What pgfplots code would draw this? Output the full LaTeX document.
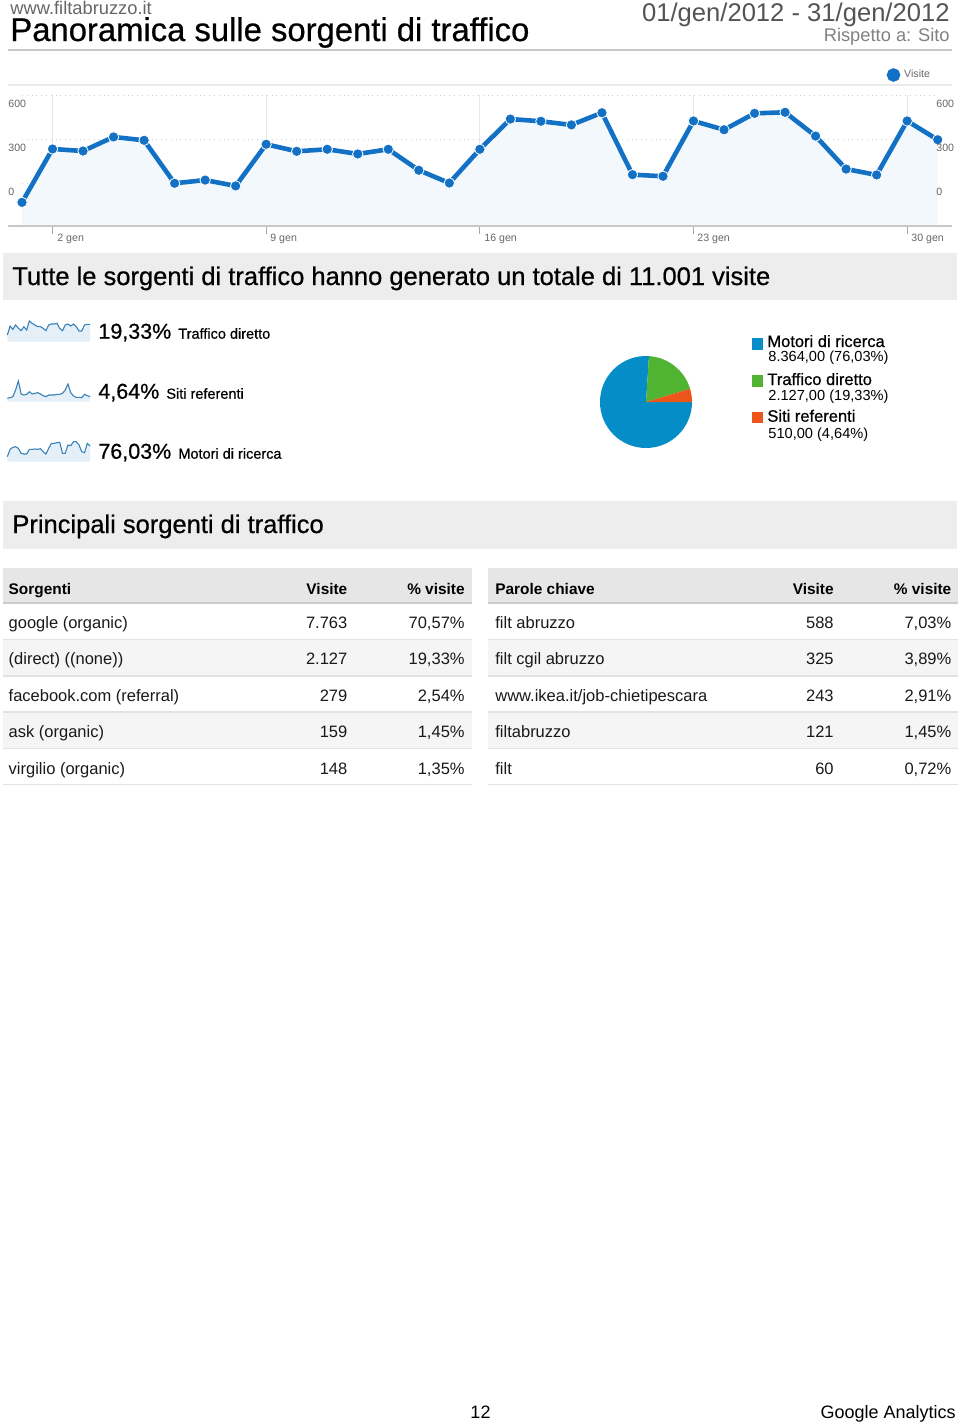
\documentclass[border=0pt]{standalone}
\usepackage{fontspec}
\setmainfont{Liberation Sans}
\newfontfamily\heavy[FakeBold=0.6]{Liberation Sans}
\usepackage{pgfplots}
\usepackage{pgfplotstable}
\pgfplotsset{compat=1.18}
\definecolor{lineblue}{HTML}{1271C4}
\definecolor{areafill}{HTML}{F2F8FC}
\definecolor{sparkline}{HTML}{3B82B8}
\definecolor{sparkfill}{HTML}{E4EFF8}
\definecolor{pieblue}{HTML}{058DC7}
\definecolor{piegreen}{HTML}{50B432}
\definecolor{pieorange}{HTML}{ED561B}
\definecolor{bannergray}{HTML}{EDEDED}
\definecolor{headgray}{HTML}{E6E6E6}
\definecolor{rowgray}{HTML}{F5F5F5}
\definecolor{sepgray}{HTML}{E2E2E2}
\definecolor{labelgray}{HTML}{666666}
\definecolor{gridgray}{HTML}{E6E6E6}
\newcommand\fs[1]{\fontsize{#1}{#1}\selectfont}

% daily visits (read against the printed axis)
\pgfplotstableread{
day visits
1 -132
2 232
3 218
4 314
5 291
6 -2
7 20
8 -20
9 264
10 216
11 230
12 198
13 230
14 87
15 0
16 230
17 436
18 421
19 396
20 479
21 57
22 46
23 423
24 363
25 475
26 482
27 320
28 95
29 55
30 423
31 295
}\visits

% sparklines (relative heights)
\pgfplotstableread{
d h
1 20
2 47
3 37
4 50
5 40
6 33
7 45
8 35
9 62
10 55
11 50
12 45
13 45
14 40
15 33
16 50
17 53
18 53
19 55
20 40
21 33
22 50
23 53
24 47
25 53
26 45
27 32
28 32
29 50
30 52
31 52
}\sparkA
\pgfplotstableread{
d h
1 10
2 12
3 15
4 35
5 62
6 23
7 20
8 22
9 30
10 23
11 25
12 27
13 23
14 18
15 15
16 20
17 20
18 20
19 22
20 22
21 25
22 35
23 53
24 27
25 17
26 13
27 13
28 12
29 22
30 18
31 15
}\sparkB
\pgfplotstableread{
d h
1 15
2 37
3 43
4 45
5 40
6 25
7 23
8 23
9 37
10 37
11 38
12 37
13 39
14 30
15 23
16 40
17 55
18 55
19 57
20 58
21 25
22 25
23 50
24 48
25 60
26 60
27 50
28 30
29 27
30 55
31 47
}\sparkC

% pie data
\def\vMotori{8364}
\def\vDiretto{2127}
\def\vReferenti{510}
\pgfmathsetmacro\vTot{\vMotori+\vDiretto+\vReferenti}
\pgfmathsetmacro\aA{-360*(\vMotori/\vTot)}
\pgfmathsetmacro\aB{\aA-360*(\vDiretto/\vTot)}

\begin{document}
\begin{tikzpicture}
\begin{scope}[x=0.5pt,y=-0.5pt]
% ---------- header
\node[anchor=base west, inner sep=0, text=labelgray, font=\fs{9.15pt}] at (10,14) {www.filtabruzzo.it};
\node[anchor=base west, inner sep=0, font=\heavy\fs{16.4pt}] at (10,41) {Panoramica sulle sorgenti di traffico};
\node[anchor=base east, inner sep=0, text=black!67, font=\fs{12.8pt}] at (950,21) {01/gen/2012 - 31/gen/2012};
\node[anchor=base east, inner sep=0, text=black!50, font=\fs{9.15pt}] at (950,41) {Rispetto a: Sito};
\draw[black!22, line width=1pt] (8,49.5) -- (952,49.5);
% ---------- line chart frame
\draw[black!8, line width=0.6pt] (8,85) -- (952,85);
% ---------- banner 1
\fill[bannergray] (3,253) rectangle (957,300);
\node[anchor=base west, inner sep=0, font=\heavy\fs{12.75pt}] at (12,285) {Tutte le sorgenti di traffico hanno generato un totale di 11.001 visite};
% ---------- sparkline labels
\node[anchor=base west, inner sep=0, font=\heavy\fs{10.75pt}] at (98,338.7) {19,33\%};
\node[anchor=base west, inner sep=0, font=\heavy\fs{7.25pt}] at (178,338.7) {Traffico diretto};
\node[anchor=base west, inner sep=0, font=\heavy\fs{10.75pt}] at (98,398.7) {4,64\%};
\node[anchor=base west, inner sep=0, font=\heavy\fs{7.25pt}] at (166,398.7) {Siti referenti};
\node[anchor=base west, inner sep=0, font=\heavy\fs{10.75pt}] at (98,458.7) {76,03\%};
\node[anchor=base west, inner sep=0, font=\heavy\fs{7.25pt}] at (178,458.7) {Motori di ricerca};
% ---------- pie legend
\fill[pieblue] (751.7,338.3) rectangle (763.3,350);
\fill[piegreen] (751.7,375) rectangle (763.3,386.7);
\fill[pieorange] (751.7,411.7) rectangle (763.3,423.3);
\node[anchor=base west, inner sep=0, font=\heavy\fs{8.25pt}] at (767,347) {Motori di ricerca};
\node[anchor=base west, inner sep=0, font=\fs{7.3pt}] at (768,361.5) {8.364,00 (76,03\%)};
\node[anchor=base west, inner sep=0, font=\heavy\fs{8.25pt}] at (767,385) {Traffico diretto};
\node[anchor=base west, inner sep=0, font=\fs{7.3pt}] at (768,400) {2.127,00 (19,33\%)};
\node[anchor=base west, inner sep=0, font=\heavy\fs{8.25pt}] at (767,421.7) {Siti referenti};
\node[anchor=base west, inner sep=0, font=\fs{7.3pt}] at (768,438) {510,00 (4,64\%)};
% ---------- banner 2
\fill[bannergray] (3,501) rectangle (957,549);
\node[anchor=base west, inner sep=0, font=\heavy\fs{12.75pt}] at (12,533) {Principali sorgenti di traffico};
% ---------- tables
\foreach \xa/\xb in {3.3/471.7,488.3/957.7}{
  \fill[headgray] (\xa,568.3) rectangle (\xb,602.7);
  \fill[rowgray] (\xa,639.5) rectangle (\xb,675.7);
  \fill[rowgray] (\xa,711.7) rectangle (\xb,748.3);
  \draw[black!20, line width=0.8pt] (\xa,603) -- (\xb,603);
  \foreach \y in {639.5,675.7,711.7,748.3,784.3}{
    \draw[sepgray, line width=0.8pt] (\xa,\y) -- (\xb,\y);
  }
}
\node[anchor=base west, inner sep=0, font=\bfseries\fs{7.7pt}] at (8.3,594) {Sorgenti};
\node[anchor=base east, inner sep=0, font=\bfseries\fs{7.7pt}] at (347.7,594) {Visite};
\node[anchor=base east, inner sep=0, font=\bfseries\fs{7.7pt}] at (465,594) {\% visite};
\node[anchor=base west, inner sep=0, font=\bfseries\fs{7.7pt}] at (495,594) {Parole chiave};
\node[anchor=base east, inner sep=0, font=\bfseries\fs{7.7pt}] at (834,594) {Visite};
\node[anchor=base east, inner sep=0, font=\bfseries\fs{7.7pt}] at (951.7,594) {\% visite};
\foreach \y/\a/\b/\c in {628/google (organic)/7.763/{70,57\%},664.5/(direct) ((none))/2.127/{19,33\%},701/facebook.com (referral)/279/{2,54\%},737.5/ask (organic)/159/{1,45\%},774/virgilio (organic)/148/{1,35\%}}{
  \node[anchor=base west, inner sep=0, font=\fs{8.25pt}, text=black!90] at (8.3,\y) {\a};
  \node[anchor=base east, inner sep=0, font=\fs{8.25pt}, text=black!90] at (347.7,\y) {\b};
  \node[anchor=base east, inner sep=0, font=\fs{8.25pt}, text=black!90] at (465,\y) {\c};
}
\foreach \y/\a/\b/\c in {628/filt abruzzo/588/{7,03\%},664.5/filt cgil abruzzo/325/{3,89\%},701/www.ikea.it\slash job-chietipescara/243/{2,91\%},737.5/filtabruzzo/121/{1,45\%},774/filt/60/{0,72\%}}{
  \node[anchor=base west, inner sep=0, font=\fs{8.25pt}, text=black!90] at (495,\y) {\a};
  \node[anchor=base east, inner sep=0, font=\fs{8.25pt}, text=black!90] at (834,\y) {\b};
  \node[anchor=base east, inner sep=0, font=\fs{8.25pt}, text=black!90] at (951.7,\y) {\c};
}
% ---------- footer
\node[anchor=base, inner sep=0, font=\fs{9pt}] at (480.5,1418.5) {12};
\node[anchor=base east, inner sep=0, font=\fs{9pt}] at (956,1418.5) {Google Analytics};
\end{scope}

% ---------- main line chart
\begin{axis}[at={(11pt,-113pt)}, anchor=south west, scale only axis,
  width=457.85pt, height=65.5pt,
  xmin=1, xmax=31, ymin=-293.2, ymax=600,
  axis line style={draw=none},
  xtick={2,9,16,23,30}, xticklabels={},
  xtick pos=bottom, xtick align=outside, major tick length=4pt,
  x tick style={draw=black!35, line width=0.5pt},
  ytick={0,300,600}, yticklabels={}, y tick style={draw=none},
  xmajorgrids, x grid style={gridgray, line width=0.5pt},
  ymajorgrids, y grid style={black!18, dotted, line width=0.5pt},
  clip=false,
  legend style={at={(0.944,1.1527)}, anchor=west, draw=none, fill=none,
    font=\fs{5.3pt}, text=labelgray, inner sep=0pt},
  legend image code/.code={\fill[lineblue] (0.12cm,0cm) circle (2.2pt);},
]
\addplot[fill=areafill, draw=none, forget plot] table[x=day,y=visits] {\visits} -- (axis cs:31,-293.2) -- (axis cs:1,-293.2) -- cycle;
\addplot[color=lineblue, line width=2.3pt, mark=*, mark size=2.6pt,
  mark options={fill=lineblue, draw=white, line width=0.4pt}] table[x=day,y=visits] {\visits};
\addlegendentry{Visite}
\end{axis}

% ---------- sparklines
\begin{axis}[at={(3.67pt,-170.83pt)}, anchor=south west, scale only axis, hide axis,
  width=41.35pt, height=10.83pt, xmin=1, xmax=31, ymin=0, ymax=65, clip=false]
\addplot[fill=sparkfill, draw=none] table[x=d,y=h] {\sparkA} \closedcycle;
\addplot[color=sparkline, line width=0.55pt] table[x=d,y=h] {\sparkA};
\end{axis}
\begin{axis}[at={(3.67pt,-200.83pt)}, anchor=south west, scale only axis, hide axis,
  width=41.35pt, height=10.83pt, xmin=1, xmax=31, ymin=0, ymax=65, clip=false]
\addplot[fill=sparkfill, draw=none] table[x=d,y=h] {\sparkB} \closedcycle;
\addplot[color=sparkline, line width=0.55pt] table[x=d,y=h] {\sparkB};
\end{axis}
\begin{axis}[at={(3.67pt,-230.83pt)}, anchor=south west, scale only axis, hide axis,
  width=41.35pt, height=10.83pt, xmin=1, xmax=31, ymin=0, ymax=65, clip=false]
\addplot[fill=sparkfill, draw=none] table[x=d,y=h] {\sparkC} \closedcycle;
\addplot[color=sparkline, line width=0.55pt] table[x=d,y=h] {\sparkC};
\end{axis}

% ---------- pie
\begin{axis}[at={(323pt,-201pt)}, anchor=center, scale only axis, hide axis,
  width=46pt, height=46pt, xmin=-1, xmax=1, ymin=-1, ymax=1, clip=false]
\fill[pieblue] (axis cs:0,0) -- ++(0:23pt) arc[start angle=0, end angle=\aA, radius=23pt] -- cycle;
\fill[piegreen] (axis cs:0,0) -- ++(\aA:23pt) arc[start angle=\aA, end angle=\aB, radius=23pt] -- cycle;
\fill[pieorange] (axis cs:0,0) -- ++(\aB:23pt) arc[start angle=\aB, end angle=-360, radius=23pt] -- cycle;
\end{axis}

% ---------- chart labels on top
\begin{scope}[x=0.5pt,y=-0.5pt]
\draw[black!22, line width=1pt] (8,226) -- (952,226);
\foreach \y/\t in {107/600,151/300,195/0}{
  \node[anchor=base west, inner sep=0, text=labelgray, font=\fs{5.3pt}] at (8,\y) {\t};
  \node[anchor=base west, inner sep=0, text=labelgray, font=\fs{5.3pt}] at (936,\y) {\t};
}
\foreach \x/\t in {57/2 gen,270/9 gen,484/16 gen,697/23 gen,911/30 gen}{
  \node[anchor=base west, inner sep=0, text=labelgray, font=\fs{5.3pt}] at (\x,241) {\t};
}
\end{scope}
\pgfresetboundingbox
\path (0,0) rectangle (480pt,-712.5pt);
\end{tikzpicture}
\end{document}
